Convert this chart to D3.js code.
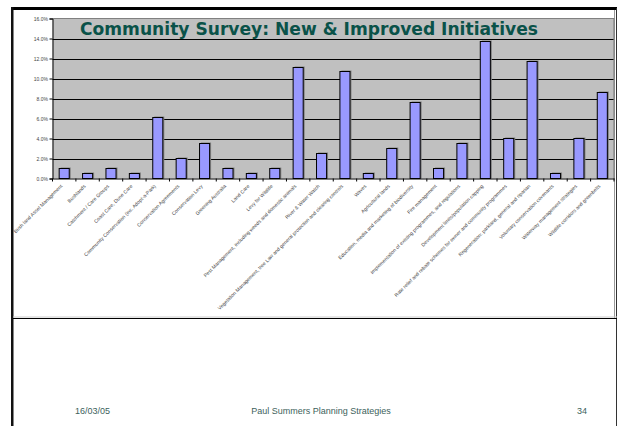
<!DOCTYPE html>
<html>
<head>
<meta charset="utf-8">
<script src="https://cdn.jsdelivr.net/npm/d3@7"></script>
<style>
  html, body { margin: 0; padding: 0; background: #fff; }
  svg { display: block; }
</style>
</head>
<body>
<svg id="chart" width="620" height="426"></svg>
<script>
// Survey responses: share of suggestions per initiative (percent)
const categories = [
  "Bush land Asset Management",
  "Bushlands",
  "Catchment / Care Groups",
  "Coast Care, Dune Care",
  "Community Conservation (inc. Adopt-a-Park)",
  "Conservation Agreements",
  "Conservation Levy",
  "Greening Australia",
  "Land Care",
  "Levy for Wildlife",
  "Pest Management, including weeds and domestic animals",
  "River & Water Watch",
  "Vegetation Management, tree Law and general protection and clearing controls",
  "Waves",
  "Agricultural lands",
  "Education, media and marketing of biodiversity",
  "Fire management",
  "Implementation of existing programmes, and regulations",
  "Development limits/population capping",
  "Rate relief and rebate schemes for owner and community programmes",
  "Regeneration: parkland, general and riparian",
  "Voluntary conservation covenants",
  "Waterway management strategies",
  "Wildlife corridors and greenbelts"
];
const values = [1.0, 0.5, 1.0, 0.5, 6.1, 2.0, 3.5, 1.0, 0.5, 1.0, 11.1, 2.5,
                10.7, 0.5, 3.0, 7.6, 1.0, 3.5, 13.7, 4.0, 11.7, 0.5, 4.0, 8.6];
const yTicks = [0, 2, 4, 6, 8, 10, 12, 14, 16];

const chartTitle = "Community Survey: New & Improved Initiatives";
const footerLeft = "16/03/05";
const footerCenter = "Paul Summers Planning Strategies";
const footerRight = "34";

const svg = d3.select("#chart");

// Slide frame
svg.append("rect").attr("x", 11).attr("y", 7).attr("width", 606).attr("height", 3).attr("fill", "#000");
svg.append("rect").attr("x", 11).attr("y", 7).attr("width", 2.5).attr("height", 419).attr("fill", "#111");
svg.append("line").attr("x1", 616.5).attr("x2", 616.5).attr("y1", 8).attr("y2", 426)
  .attr("stroke", "#333").attr("stroke-width", 1);
svg.append("line").attr("x1", 614.5).attr("x2", 614.5).attr("y1", 10).attr("y2", 318)
  .attr("stroke", "#999").attr("stroke-width", 1);
svg.append("line").attr("x1", 13).attr("x2", 617).attr("y1", 317).attr("y2", 317)
  .attr("stroke", "#ccc").attr("stroke-width", 1);
svg.append("line").attr("x1", 13).attr("x2", 617).attr("y1", 318.5).attr("y2", 318.5)
  .attr("stroke", "#000").attr("stroke-width", 1.2);

// Plot area
const plotLeft = 52.5, plotRight = 614, plotTop = 18.5, plotBottom = 178.5;

const x = d3.scaleBand()
  .domain(categories)
  .range([plotLeft, plotRight])
  .paddingInner(0.57)
  .paddingOuter(0.285);

const y = d3.scaleLinear().domain([0, 16]).range([plotBottom, plotTop]);

svg.append("rect")
  .attr("x", plotLeft).attr("y", plotTop)
  .attr("width", plotRight - plotLeft).attr("height", plotBottom - plotTop)
  .attr("fill", "#c0c0c0");

// Gridlines
svg.append("g")
  .selectAll("line")
  .data(yTicks.filter(d => d > 0 && d < 16))
  .join("line")
  .attr("x1", plotLeft).attr("x2", plotRight)
  .attr("y1", d => Math.round(y(d)) + 0.5).attr("y2", d => Math.round(y(d)) + 0.5)
  .attr("stroke", "#000").attr("stroke-width", 1);

// Plot border (top / right)
svg.append("path")
  .attr("d", `M${plotLeft},${plotTop}H${plotRight}V${plotBottom}`)
  .attr("fill", "none").attr("stroke", "#808080").attr("stroke-width", 1.2);

// Bars with a soft drop shadow
const bars = svg.append("g");
bars.selectAll("rect.shadow")
  .data(values)
  .join("rect")
  .attr("class", "shadow")
  .attr("x", (d, i) => x(categories[i]) + 1.5)
  .attr("y", d => y(d) - 1)
  .attr("width", x.bandwidth())
  .attr("height", d => plotBottom - y(d) + 1)
  .attr("fill", "#808080");
bars.selectAll("rect.bar")
  .data(values)
  .join("rect")
  .attr("class", "bar")
  .attr("x", (d, i) => x(categories[i]))
  .attr("y", d => y(d))
  .attr("width", x.bandwidth())
  .attr("height", d => plotBottom - y(d))
  .attr("fill", "#9999ff")
  .attr("stroke", "#000")
  .attr("stroke-width", 1);

// Y axis
const yAxis = svg.append("g")
  .attr("transform", `translate(${plotLeft},0)`)
  .call(d3.axisLeft(y).tickValues(yTicks).tickFormat(d => d.toFixed(1) + "%").tickSize(3).tickPadding(1.5));
yAxis.select(".domain").attr("stroke", "#000");
yAxis.selectAll("text")
  .attr("font-family", "Liberation Sans, Arial, sans-serif")
  .attr("font-size", 5)
  .attr("fill", "#444");

// X axis
const xAxis = svg.append("g")
  .attr("transform", `translate(0,${plotBottom})`)
  .call(d3.axisBottom(x).tickSize(0).tickPadding(0));
xAxis.select(".domain").attr("stroke", "#000").attr("stroke-width", 1.2);
xAxis.selectAll("text")
  .attr("font-family", "Liberation Sans, Arial, sans-serif")
  .attr("font-size", 5)
  .attr("fill", "#444")
  .attr("text-anchor", "end")
  .attr("dy", 0)
  .attr("transform", "translate(-1.5,8) rotate(-45)");

// Category separator ticks
svg.append("g")
  .selectAll("line")
  .data(d3.range(categories.length + 1))
  .join("line")
  .attr("x1", i => plotLeft + i * x.step())
  .attr("x2", i => plotLeft + i * x.step())
  .attr("y1", plotBottom).attr("y2", plotBottom + 3)
  .attr("stroke", "#000").attr("stroke-width", 1);

// Title
svg.append("text")
  .attr("x", 80).attr("y", 35)
  .attr("textLength", 458)
  .attr("lengthAdjust", "spacingAndGlyphs")
  .attr("font-family", "DejaVu Sans, Verdana, sans-serif")
  .attr("font-weight", "bold")
  .attr("font-size", 17.5)
  .attr("fill", "#0a5249")
  .text(chartTitle);

// Footer
const footer = svg.append("g")
  .attr("font-family", "Liberation Sans, Arial, sans-serif")
  .attr("font-size", 9)
  .attr("fill", "#3d5f5c");
footer.append("text").attr("x", 75).attr("y", 414).text(footerLeft);
footer.append("text").attr("x", 321).attr("y", 414).attr("text-anchor", "middle").text(footerCenter);
footer.append("text").attr("x", 587).attr("y", 414).attr("text-anchor", "end").text(footerRight);
</script>
</body>
</html>
